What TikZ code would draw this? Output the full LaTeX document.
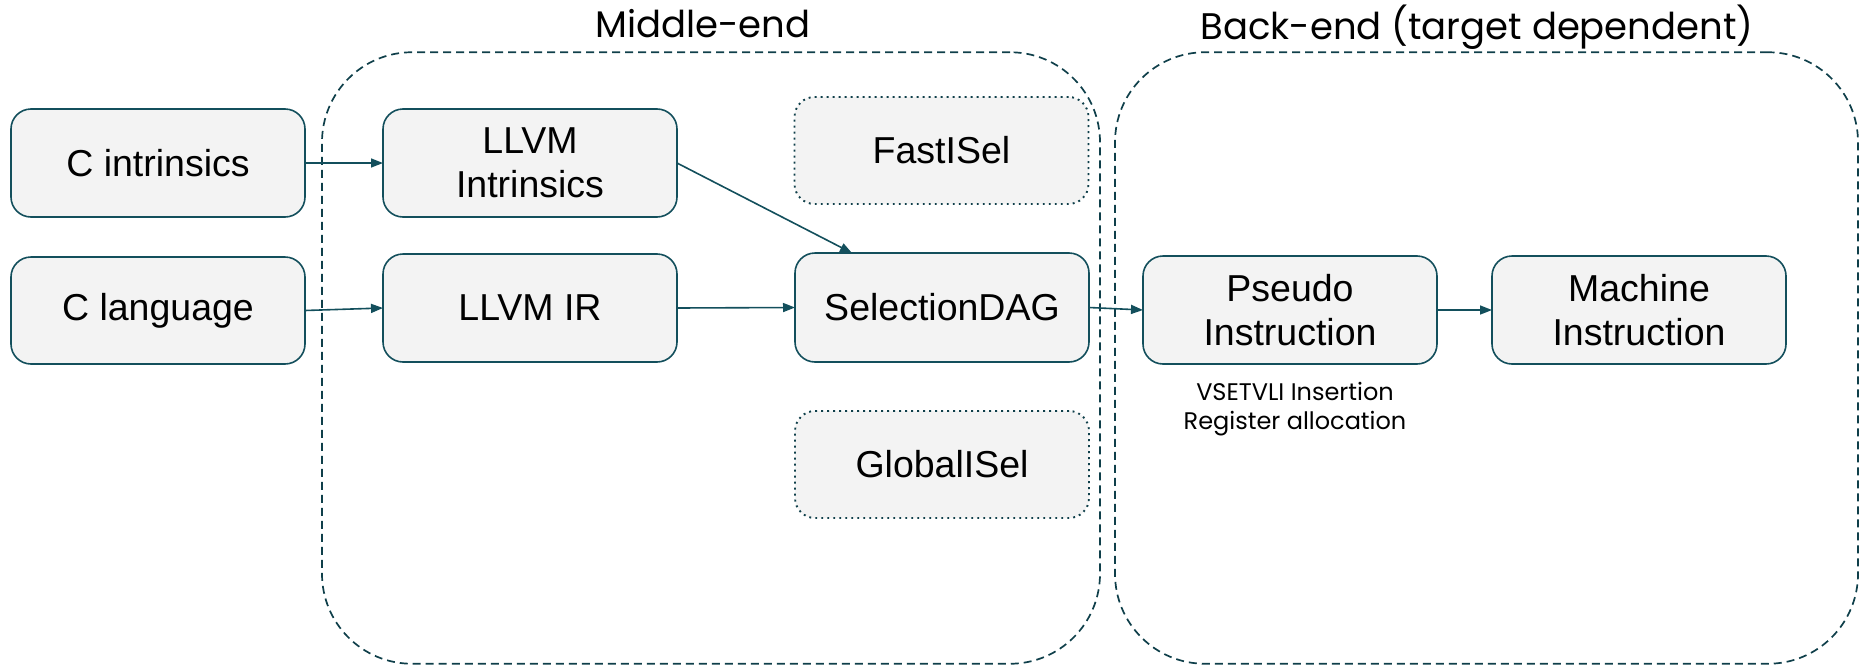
\documentclass[tikz,border=0pt]{standalone}
\usepackage{fontspec}
\setmainfont{Liberation Sans}
\newfontfamily\poppins{Poppins}
\usetikzlibrary{arrows.meta}
\definecolor{teal}{HTML}{134F5C}
\definecolor{dteal}{HTML}{0F3F4A}
\definecolor{boxfill}{HTML}{F3F3F3}
\tikzset{
  stagebox/.style={draw=teal, line width=1.6pt, fill=boxfill, rounded corners=20pt,
    minimum width=294pt, minimum height=108pt, inner sep=0pt, outer sep=0pt,
    align=center, font=\fontsize{37.5}{44}\selectfont, text=black},
  optbox/.style={stagebox, draw=dteal, line width=1.9pt, dash pattern=on 1.9pt off 4.1pt},
  region/.style={draw=dteal, line width=1.7pt, dash pattern=on 8pt off 5pt,
    rounded corners=90pt, inner sep=0pt, outer sep=0pt},
  titletext/.style={font=\poppins\fontsize{37}{44}\selectfont, anchor=base, inner sep=0pt},
  notetext/.style={font=\poppins\fontsize{24}{28.5}\selectfont, align=center, inner sep=0pt},
  flow/.style={draw=teal, line width=1.6pt, -{Triangle[length=12pt,width=9pt]}}
}
\begin{document}
\begin{tikzpicture}[x=1pt,y=-1pt]
\useasboundingbox (0,0) rectangle (1860,664);
% regions
\node[region, minimum width=778pt, minimum height=611.5pt] (mid) at (711,358) {};
\node[region, minimum width=743pt, minimum height=611.5pt] (back) at (1486.5,358) {};
\node[titletext] (midt) at (703,37.3) {Middle-end};
\node[titletext] (backt) at (1477,39.3) {Back-end (target dependent)};
% boxes
\node[stagebox] (cint) at (158,163) {C intrinsics};
\node[stagebox, minimum height=107pt] (clang) at (158,310.5) {C language};
\node[stagebox] (lint) at (530,163) {LLVM\\Intrinsics};
\node[stagebox] (lir) at (530,308) {LLVM IR};
\node[optbox, minimum height=107pt] (fast) at (941.5,150.5) {FastISel};
\node[stagebox, minimum height=109pt] (sdag) at (942,307.5) {SelectionDAG};
\node[optbox, minimum height=107pt] (gisel) at (942,464.5) {GlobalISel};
\node[stagebox] (pseudo) at (1290,310) {Pseudo\\Instruction};
\node[stagebox] (mach) at (1639,310) {Machine\\Instruction};
\node[notetext] (note) at (1295,409) {VSETVLI Insertion\\Register allocation};
% arrows
\draw[flow] (cint.east) -- (lint.west);
\draw[flow] (clang.east) -- (lir.west);
\draw[flow] (lint.east) -- ([xshift=57pt]sdag.north west);
\draw[flow] (lir.east) -- (sdag.west);
\draw[flow] (sdag.east) -- (pseudo.west);
\draw[flow] (pseudo.east) -- (mach.west);
\end{tikzpicture}
\end{document}
